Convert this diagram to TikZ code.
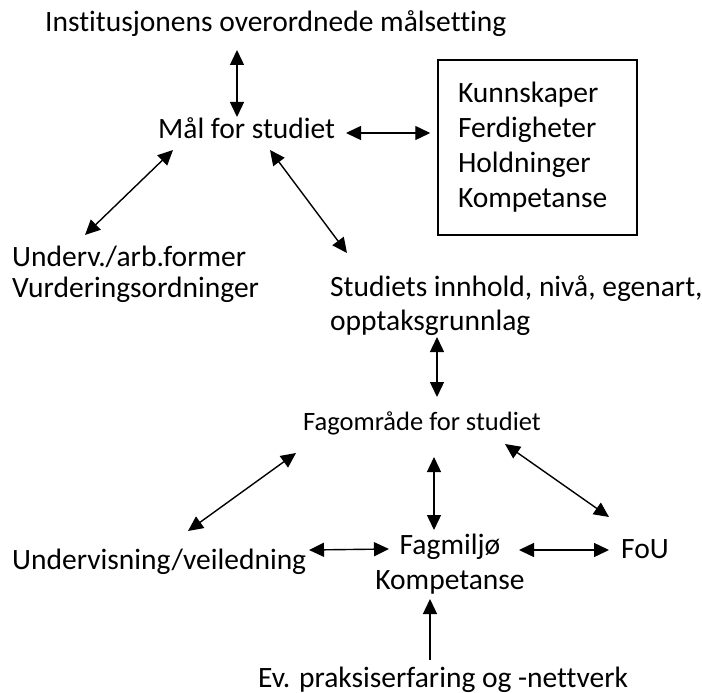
\documentclass[tikz,border=0pt]{standalone}
\usepackage{fontspec}
\setmainfont{Carlito}[Ligatures=NoCommon]
\usetikzlibrary{arrows.meta,calc}
\tikzset{
  lbl/.style={inner sep=0pt, anchor=base west, font=\fontsize{29.5}{35}\selectfont},
  arr/.style={>={Triangle[length=15pt,width=14pt]}, <->, line width=1.4pt},
}
\begin{document}
\begin{tikzpicture}[x=1pt,y=-1pt]
    \useasboundingbox (0,0) rectangle (702,693);
    \node[lbl] (inst) at (45,32) {Institusjonens overordnede målsetting};
    \node[lbl] (maal) at (158,138) {Mål for studiet};
    \node[draw, line width=1.5pt, inner sep=0pt, inner xsep=20pt,
      text width=159pt, minimum height=175pt, align=left,
      font=\fontsize{29.5}{35}\selectfont] (mal) at (537.5,147.5)
      {Kunnskaper\\Ferdigheter\\Holdninger\\Kompetanse};
    % base of a two-line node is its last line
    \node[lbl, align=left, font=\fontsize{29.5}{31}\selectfont] (form) at (12,297)
      {Underv./arb.former\\Vurderingsordninger};
    \node[lbl, align=left, font=\fontsize{29.5}{34}\selectfont] (innh) at (330,330)
      {Studiets innhold, nivå, egenart,\\opptaksgrunnlag};
    \node[lbl, font=\fontsize{26.5}{30}\selectfont] (fag) at (303,430) {Fagområde for studiet};
    \node[lbl] (underv) at (12,569) {Undervisning/veiledning};
    \node[lbl, anchor=base, align=center] (miljo) at (450,589) {Fagmiljø\\Kompetanse};
    \node[lbl] (fou) at (621,558) {FoU};
    \node[lbl] (prak) at (258,687) {Ev. praksiserfaring og -nettverk};
    % upper part
    \draw[arr] ($(inst.base west)+(192,18)$) -- ($(maal.base west)+(79,-21)$);
    \draw[arr] ($(maal.base west)+(188,-5)$) -- ($(mal.west)+(-7,-14.5)$);
    \draw[arr] ($(maal.base west)+(15,12)$) -- ($(form.base west)+(73,-62)$);
    \draw[arr] ($(maal.base west)+(112,12)$) -- ($(innh.base west)+(17,-77)$);
    \draw[arr] ($(innh.base west)+(107,7)$) -- ($(fag.base west)+(134,-33)$);
    % lower part
    \draw[arr] ($(fag.base west)+(-7,23)$) -- ($(underv.base west)+(176,-38)$);
    \draw[arr] ($(fag.base west)+(131,27)$) -- ($(miljo.base)+(-16,-59)$);
    \draw[arr] ($(fag.base west)+(202,14)$) -- ($(fou.base west)+(-12,-41)$);
    \draw[arr] ($(underv.base west)+(297,-19)$) -- ($(miljo.base)+(-61,-40)$);
    \draw[arr] ($(miljo.base)+(69,-39)$) -- ($(fou.base west)+(-12,-8)$);
    \draw[arr, <-] ($(miljo.base)+(-20,10)$) -- ($(prak.base west)+(172,-27)$);
\end{tikzpicture}
\end{document}
